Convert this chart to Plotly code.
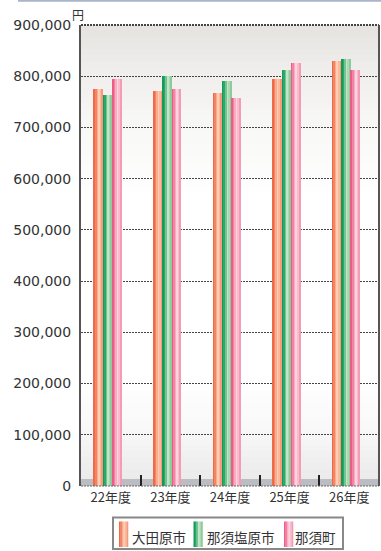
import plotly.graph_objects as go

# ---- data ----
categories = ["22年度", "23年度", "24年度", "25年度", "26年度"]
series_names = ["大田原市", "那須塩原市", "那須町"]
ohtawara = [775000, 771000, 767000, 795000, 829000]
nasushiobara = [764000, 801000, 791000, 813000, 833000]
nasu = [795000, 776000, 757000, 826000, 812000]
y_ticks = [0, 100000, 200000, 300000, 400000, 500000, 600000, 700000, 800000, 900000]
unit_label = "円"

series_values = [ohtawara, nasushiobara, nasu]

# ---- style ----
W, H = 381, 551
L, R, T, B = 81, 379, 25, 486  # plot area pixels
ml, mr, mt, mb = L, W - R, T, H - B
pw, ph = R - L, B - T

def px(x):
    return (x - L) / pw

def py(y):
    return (B - y) / ph

strip_colors = [
    ["#ee6a48", "#f38562", "#f9ad8e", "#fdcdb4", "#fbb99d", "#f59b7c"],
    ["#18995a", "#2aaa68", "#72c58f", "#c2e4c8", "#abd8b2", "#8ecb9c"],
    ["#ea5d86", "#f283a5", "#f8adc3", "#fdd3df", "#fabccd", "#f59cb5"],
]
cjk = "Noto Sans CJK JP"
nstrip = 6
bw = 0.156
start = -0.283

fig = go.Figure()
for s, vals in enumerate(series_values):
    for k in range(nstrip):
        sw = bw / nstrip
        fig.add_trace(go.Bar(
            x=categories, y=vals,
            name=series_names[s],
            width=sw * (1.25 if k < nstrip - 1 else 1.0),
            offset=start + s * bw + k * sw,
            marker=dict(color=strip_colors[s][k], line=dict(width=0)),
            showlegend=False,
            hovertemplate="%{x}: %{y:,}<extra>" + series_names[s] + "</extra>",
        ))

shapes = []
# background gradient
stops = [(25, (229, 226, 223)), (60, (238, 236, 234)), (120, (247, 247, 246)),
         (200, (255, 255, 255)), (380, (255, 255, 255)), (430, (248, 248, 248)),
         (479, (234, 234, 234))]
def col_at(y):
    for (y0, c0), (y1, c1) in zip(stops[:-1], stops[1:]):
        if y0 <= y <= y1:
            t = (y - y0) / (y1 - y0)
            return "rgb(%d,%d,%d)" % tuple(round(a + (b - a) * t) for a, b in zip(c0, c1))
    return "rgb(%d,%d,%d)" % stops[-1][1]
step = 6
y = T
while y < 479:
    y2 = min(y + step, 479)
    shapes.append(dict(type="rect", xref="paper", yref="paper", x0=0, x1=1,
                       y0=py(y2 + 0.5), y1=py(y), fillcolor=col_at((y + y2) / 2),
                       line=dict(width=0), layer="below"))
    y = y2
# floor band
shapes.append(dict(type="rect", xref="paper", yref="paper", x0=0, x1=1,
                   y0=0, y1=py(479), fillcolor="#bcbdc2", line=dict(width=0), layer="below"))
# frame: top & bottom dotted, right solid
shapes.append(dict(type="line", xref="paper", yref="paper", x0=0, x1=1, y0=1, y1=1,
                   line=dict(color="#444", width=2, dash="2px,1px"), layer="above"))
shapes.append(dict(type="line", xref="paper", yref="paper", x0=0, x1=1, y0=0, y1=0,
                   line=dict(color="#666", width=1, dash="2px,1px"), layer="above"))
shapes.append(dict(type="line", xref="paper", yref="paper", x0=1, x1=1, y0=0, y1=1,
                   line=dict(color="#555", width=2), layer="above"))
# top decorative line
shapes.append(dict(type="line", xref="paper", yref="paper", x0=px(18), x1=px(381),
                   y0=py(0.8), y1=py(0.8), line=dict(color="#a9b5ca", width=2)))

# manual legend
shapes.append(dict(type="rect", xref="paper", yref="paper", x0=px(113), x1=px(343),
                   y0=py(549), y1=py(517.5), fillcolor="white",
                   line=dict(color="#888", width=2)))
annotations = []
sym_x = [119, 193.5, 284]
txt_x = [130, 204.5, 293]
for s in range(3):
    sw = 9 / nstrip
    for k in range(nstrip):
        shapes.append(dict(type="rect", xref="paper", yref="paper",
                           x0=px(sym_x[s] + k * sw), x1=px(sym_x[s] + (k + 1) * sw + 0.3),
                           y0=py(547), y1=py(521.5), fillcolor=strip_colors[s][k],
                           line=dict(width=0)))
    annotations.append(dict(xref="paper", yref="paper", x=px(txt_x[s]), y=py(537),
                            xanchor="left", yanchor="middle", showarrow=False,
                            text=series_names[s],
                            font=dict(family=cjk, size=13.5, color="#333")))
annotations.append(dict(xref="paper", yref="paper", x=px(78), y=py(15),
                        xanchor="center", yanchor="middle", showarrow=False,
                        text=unit_label, font=dict(family=cjk, size=12, color="#333")))

fig.update_layout(
    width=W, height=H,
    margin=dict(l=ml, r=mr, t=mt, b=mb, pad=0),
    paper_bgcolor="white", plot_bgcolor="white",
    barmode="overlay", bargap=0,
    shapes=shapes, annotations=annotations,
    showlegend=False,
    xaxis=dict(
        type="category", range=[-0.5, 4.5],
        tickson="boundaries", ticks="inside", ticklen=11, tickwidth=2, tickcolor="#222",
        showgrid=False, showline=False, zeroline=False,
        tickfont=dict(family=cjk, size=13, color="#333"),
        ticklabelstandoff=2,
    ),
    yaxis=dict(
        range=[0, 900000], tickvals=y_ticks, tickformat=",d",
        showgrid=True, gridcolor="#444", gridwidth=1, griddash="2px,1px",
        zeroline=False, showline=True, linecolor="#555", linewidth=2,
        ticks="", ticklabelstandoff=5,
        tickfont=dict(family="DejaVu Sans", size=14, color="#333"),
    ),
)

fig.write_html(
    "out.html",
    config={"displayModeBar": False},
    post_script="document.body.style.margin='0';document.body.style.overflow='hidden';",
)
